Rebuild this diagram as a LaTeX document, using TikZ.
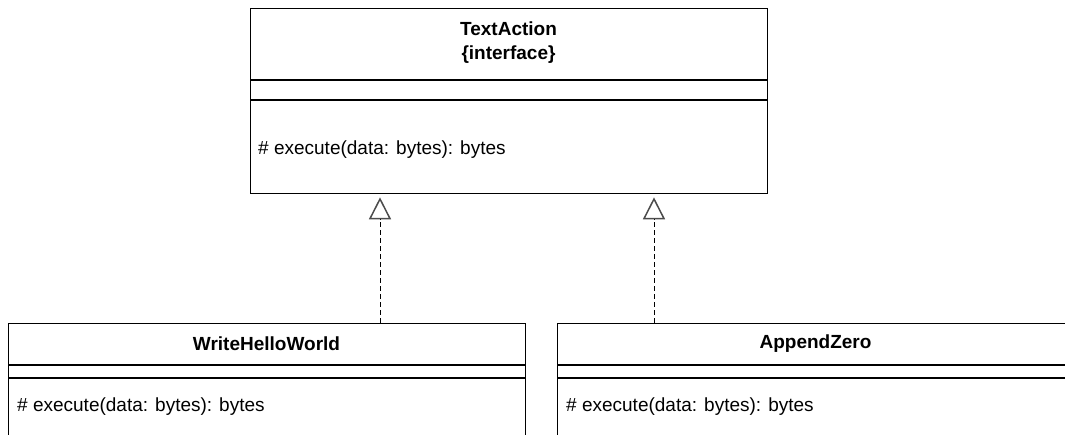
\documentclass[tikz,border=0pt]{standalone}
\usepackage{fontspec}
\setmainfont{Liberation Sans}
\usetikzlibrary{arrows.meta}
\begin{document}
\begin{tikzpicture}[x=1pt, y=-1pt,
  classbox/.style={draw=black, line width=1.3pt, rectangle, inner sep=0pt,
                   anchor=north west, minimum width=517pt},
  sepline/.style={draw=black, line width=1.3pt},
  classname/.style={font=\fontsize{19}{24}\selectfont\bfseries, align=center, inner sep=0pt},
  member/.style={font=\fontsize{19}{22}\selectfont, anchor=west, inner sep=0pt},
  realize/.style={line width=1pt, dash pattern=on 4.5pt off 3.5pt,
                  -{Triangle[open, length=22pt, width=22pt, line width=1.5pt, color=black!70]}}]
  \useasboundingbox (0,0) rectangle (1065,435);
  \clip (0,0) rectangle (1065,435);

  % interface TextAction
  \node[classbox, minimum height=185pt] (ta) at (250,8) {};
  \draw[sepline] (ta.north west) ++(0,72) -- ++(517,0);
  \draw[sepline] (ta.north west) ++(0,92) -- ++(517,0);
  \node[classname] (ta-name) at (508.5,43) {TextAction\\\{interface\}};
  \node[member] (ta-op) at (258,150) {\# execute(data: bytes): bytes};

  % class WriteHelloWorld
  \node[classbox, minimum height=160pt] (w) at (8,323) {};
  \draw[sepline] (w.north west) ++(0,42) -- ++(517,0);
  \draw[sepline] (w.north west) ++(0,55) -- ++(517,0);
  \node[classname] (w-name) at (266.5,344) {WriteHelloWorld};
  \node[member] (w-op) at (17,407) {\# execute(data: bytes): bytes};

  % class AppendZero
  \node[classbox, minimum height=160pt] (az) at (557,323) {};
  \draw[sepline] (az.north west) ++(0,42) -- ++(517,0);
  \draw[sepline] (az.north west) ++(0,55) -- ++(517,0);
  \node[classname] (az-name) at (815.5,344) {AppendZero};
  \node[member] (az-op) at (566,407) {\# execute(data: bytes): bytes};

  % realizations
  \path (w.north west) ++(372,0) coordinate (w-in);
  \path (az.north west) ++(97,0) coordinate (az-in);
  \draw[realize] (w-in) -- ([yshift=-3pt]w-in |- ta.south);
  \draw[realize] (az-in) -- ([yshift=-3pt]az-in |- ta.south);
\end{tikzpicture}
\end{document}
